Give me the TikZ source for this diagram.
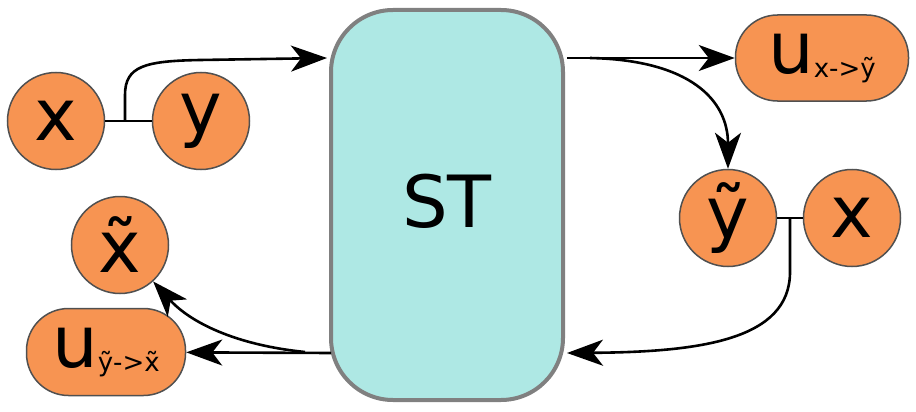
\documentclass[tikz,border=0pt]{standalone}
\usepackage{fontspec}
\setmainfont{DejaVu Sans}
\usetikzlibrary{arrows.meta}
\definecolor{orng}{RGB}{247,148,82}
\definecolor{stfill}{RGB}{174,232,228}
\definecolor{stborder}{RGB}{128,128,128}
\definecolor{nborder}{RGB}{80,80,80}
\newcommand{\bigf}{\fontsize{72}{80}\selectfont}
\newcommand{\subf}[1]{\raisebox{-4pt}{\fontsize{26}{28}\selectfont #1}}
\tikzset{
  circ/.style={circle, fill=orng, draw=nborder, line width=1.5pt, minimum size=97pt, inner sep=0pt, font=\bigf},
  ubox/.style={rectangle, rounded corners=42pt, fill=orng, draw=nborder, line width=1.5pt, inner sep=0pt, font=\bigf},
  stbox/.style={rectangle, rounded corners=62pt, fill=stfill, draw=stborder, line width=4pt, minimum width=232pt, minimum height=390pt, font=\bigf},
  arr/.style={line width=2.6pt, -{Stealth[length=36pt,width=26pt,inset=10pt]}},
  link/.style={line width=1.5pt}
}
\begin{document}
\begin{tikzpicture}[x=1pt,y=-1pt]
\useasboundingbox (0,0) rectangle (916,412);
\node[stbox] (st) at (447,205) {\raisebox{8pt}{ST}};
\node[circ] (xl) at (56,121) {x};
\node[circ] (yl) at (201,121) {y};
\node[circ] (yt) at (728,218) {ỹ};
\node[circ] (xr) at (852,218) {x};
\node[circ] (xt) at (120,245) {\~{x}};
\node[ubox, minimum width=173pt, minimum height=86pt] (u1) at (822,58) {u\subf{x->ỹ}};
\node[ubox, minimum width=159pt, minimum height=87pt] (u2) at (106,352) {u\subf{ỹ->\~{x}}};
\coordinate (j1) at (125,121);
\coordinate (j2) at (790,218);
\coordinate (in1) at (327,58);
\coordinate (out1) at (567,58);
\coordinate (out1b) at (590,58);
\coordinate (in2) at (567,353);
\coordinate (out2) at (331,353);
\coordinate (out2b) at (305,352);
\draw[link] (xl) -- (yl);
\draw[link] (yt) -- (xr);
\draw[arr] (j1) -- (125,95) .. controls (125,66) and (145,61) .. (200,60) -- (in1);
\draw[arr] (out1) -- (u1);
\draw[arr] (out1b) .. controls (690,60) and (728,100) .. (yt);
\draw[arr] (j2) -- (790,272) .. controls (790,340) and (700,352) .. (in2);
\draw[arr] (out2) -- (u2);
\draw[arr] (out2b) .. controls (235,345) and (190,322) .. (xt);
\end{tikzpicture}
\end{document}
